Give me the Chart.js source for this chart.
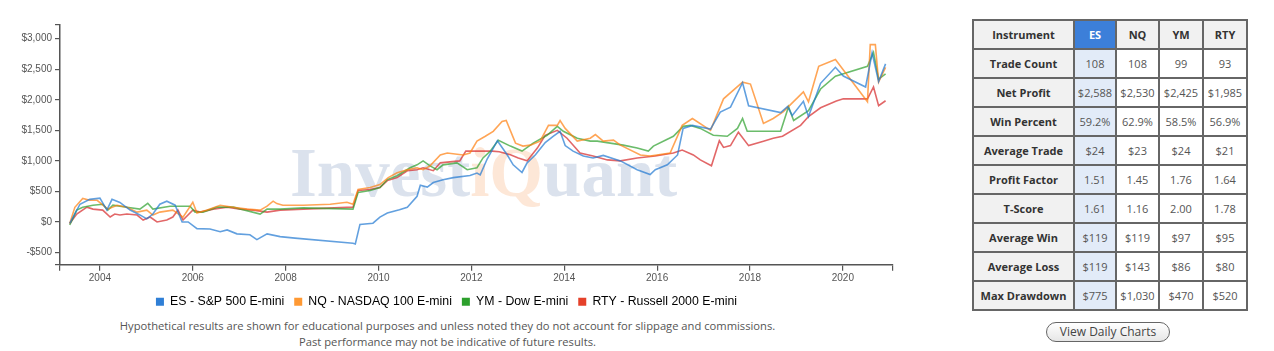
<!DOCTYPE html>
<html>
<head>
<meta charset="utf-8">
<script src="https://cdn.jsdelivr.net/npm/chart.js@4/dist/chart.umd.min.js"></script>
<style>
body { margin: 0; background: #fff; width: 1274px; height: 351px; overflow: hidden; font-family: "Open Sans", sans-serif; }
#equityChart { position: absolute; left: 0; top: 0; }
#disclaimer { position: absolute; left: 0; top: 318px; width: 895px; text-align: center; font-size: 11.2px; color: #555; line-height: 16px; }
#stats { position: absolute; left: 972px; top: 19px; border-collapse: collapse; table-layout: fixed; width: 274px; border: 2px solid #666; }
#stats td { border: 2px solid #666; padding: 0; text-align: center; font-size: 11px; color: #555; background: #fff; white-space: nowrap; overflow: hidden; }
#stats tr { height: 29px; }
#stats td.label { background: #f1f1f1; color: #333; font-weight: bold; }
#stats td.es { background: #e2ebf8; }
#stats td.esHead { background: #3c7fd9; color: #fff; font-weight: bold; }
#stats td.head { background: #f1f1f1; color: #333; font-weight: bold; }
#dailyBtn { position: absolute; left: 1046px; top: 322px; width: 122px; height: 18px; border: 1.5px solid #666; border-radius: 11px; background: linear-gradient(#fff, #e6e6e6); font-size: 12px; color: #444; text-align: center; line-height: 18px; }
</style>
</head>
<body>
<canvas id="equityChart" width="905" height="318"></canvas>
<div id="disclaimer">Hypothetical results are shown for educational purposes and unless noted they do not account for slippage and commissions.<br>Past performance may not be indicative of future results.</div>
<table id="stats"></table>
<div id="dailyBtn">View Daily Charts</div>
<script>
// series: cumulative profit, x = decimal year
const esYears = [2003.35, 2003.57, 2003.78, 2004.00, 2004.15, 2004.26, 2004.43, 2004.65, 2004.86, 2005.01, 2005.14, 2005.29, 2005.44, 2005.62, 2005.77, 2005.90, 2006.09, 2006.37, 2006.59, 2006.74, 2006.95, 2007.23, 2007.38, 2007.60, 2007.88, 2008.20, 2009.45, 2009.50, 2009.60, 2009.88, 2010.03, 2010.19, 2010.45, 2010.62, 2010.83, 2010.90, 2011.05, 2011.18, 2011.39, 2011.61, 2011.97, 2012.12, 2012.19, 2012.34, 2012.56, 2012.77, 2012.90, 2013.09, 2013.20, 2013.38, 2013.59, 2013.76, 2013.91, 2014.02, 2014.19, 2014.41, 2014.62, 2014.84, 2015.21, 2015.57, 2015.85, 2015.96, 2016.22, 2016.44, 2016.56, 2016.76, 2017.15, 2017.36, 2017.58, 2017.84, 2017.97, 2018.66, 2018.81, 2018.91, 2019.15, 2019.26, 2019.52, 2019.84, 2020.01, 2020.49, 2020.63, 2020.77, 2020.92];
const esValues = [-25, 290, 370, 390, 195, 370, 320, 195, 115, 50, 130, 290, 340, 275, 0, 0, -110, -115, -160, -130, -195, -210, -290, -195, -240, -265, -350, -360, -40, -20, 80, 145, 200, 240, 420, 600, 570, 645, 690, 726, 760, 800, 770, 1030, 1330, 1100, 935, 810, 968, 1100, 1300, 1400, 1484, 1250, 1160, 1080, 1048, 1090, 1000, 855, 775, 855, 935, 1097, 1532, 1581, 1520, 1800, 1880, 2280, 1903, 1790, 1890, 1742, 1975, 1726, 2270, 2532, 2390, 2210, 2770, 2300, 2588];

const nqYears = [2003.35, 2003.46, 2003.63, 2003.78, 2003.94, 2004.17, 2004.37, 2004.58, 2004.80, 2005.01, 2005.14, 2005.29, 2005.57, 2005.79, 2006.00, 2006.09, 2006.31, 2006.59, 2006.87, 2007.17, 2007.45, 2007.60, 2007.73, 2007.81, 2007.94, 2008.38, 2008.96, 2009.32, 2009.45, 2009.56, 2009.82, 2010.03, 2010.21, 2010.40, 2010.62, 2010.83, 2010.96, 2011.11, 2011.33, 2011.48, 2011.82, 2011.97, 2012.12, 2012.30, 2012.47, 2012.66, 2012.75, 2012.95, 2013.11, 2013.27, 2013.48, 2013.66, 2013.85, 2013.91, 2014.02, 2014.28, 2014.56, 2014.67, 2014.84, 2015.06, 2015.21, 2015.64, 2015.85, 2016.28, 2016.54, 2016.76, 2017.15, 2017.43, 2017.84, 2018.01, 2018.29, 2018.50, 2018.72, 2019.15, 2019.26, 2019.48, 2019.84, 2020.53, 2020.59, 2020.70, 2020.77, 2020.92];
const nqValues = [-25, 240, 385, 355, 355, 210, 274, 242, 161, 194, 113, 161, 194, 80, 323, 145, 194, 274, 242, 210, 194, 258, 340, 300, 274, 274, 290, 323, 290, 532, 565, 613, 726, 806, 855, 887, 855, 919, 1097, 1129, 1097, 1129, 1323, 1403, 1484, 1645, 1661, 1290, 1242, 1258, 1323, 1581, 1581, 1661, 1532, 1323, 1371, 1430, 1323, 1339, 1258, 1097, 1081, 1129, 1581, 1694, 1500, 2016, 2290, 2258, 1613, 1694, 1806, 2129, 1968, 2548, 2661, 1968, 2903, 2903, 2290, 2530];

const ymYears = [2003.35, 2003.50, 2003.63, 2003.85, 2004.06, 2004.17, 2004.28, 2004.58, 2004.86, 2005.03, 2005.14, 2005.51, 2005.94, 2006.05, 2006.22, 2006.52, 2006.87, 2007.45, 2007.60, 2007.88, 2008.38, 2009.45, 2009.56, 2009.82, 2010.03, 2010.19, 2010.40, 2010.68, 2010.83, 2010.96, 2011.11, 2011.26, 2011.39, 2011.69, 2011.91, 2012.12, 2012.25, 2012.41, 2012.58, 2012.84, 2013.09, 2013.33, 2013.63, 2013.85, 2013.98, 2014.28, 2014.56, 2014.71, 2015.27, 2015.57, 2015.81, 2015.92, 2016.35, 2016.56, 2016.72, 2016.93, 2017.21, 2017.51, 2017.73, 2017.84, 2017.94, 2018.66, 2018.83, 2018.94, 2019.26, 2019.52, 2019.84, 2020.53, 2020.66, 2020.77, 2020.92];
const ymValues = [-50, 194, 242, 274, 290, 194, 274, 242, 210, 306, 210, 258, 258, 161, 161, 242, 242, 129, 210, 210, 230, 210, 484, 516, 565, 694, 758, 887, 935, 1000, 919, 855, 935, 968, 855, 887, 1048, 1161, 1339, 1242, 1161, 1290, 1419, 1565, 1484, 1371, 1323, 1323, 1258, 1210, 1161, 1242, 1403, 1565, 1581, 1532, 1419, 1403, 1532, 1694, 1484, 1484, 1887, 1661, 1823, 2177, 2387, 2548, 2774, 2339, 2425];

const rtyYears = [2003.35, 2003.50, 2003.72, 2003.85, 2004.06, 2004.22, 2004.32, 2004.43, 2004.58, 2004.80, 2004.93, 2005.08, 2005.23, 2005.44, 2005.57, 2005.68, 2005.79, 2006.00, 2006.16, 2006.44, 2006.74, 2007.02, 2007.30, 2007.60, 2007.88, 2008.38, 2009.45, 2009.56, 2009.82, 2010.03, 2010.19, 2010.40, 2010.62, 2010.83, 2010.96, 2011.18, 2011.33, 2011.75, 2011.88, 2012.45, 2012.60, 2012.84, 2013.01, 2013.20, 2013.42, 2013.59, 2013.85, 2014.06, 2014.34, 2014.62, 2014.93, 2015.21, 2015.57, 2015.96, 2016.35, 2016.54, 2016.78, 2016.93, 2017.17, 2017.34, 2017.43, 2017.58, 2017.75, 2017.97, 2018.29, 2018.50, 2018.70, 2019.09, 2019.26, 2019.52, 2019.86, 2020.01, 2020.53, 2020.66, 2020.77, 2020.92];
const rtyValues = [-25, 129, 242, 210, 194, 81, 129, 113, 129, 113, 32, 81, 0, 32, 81, 194, 32, 194, 161, 210, 242, 210, 194, 161, 194, 210, 242, 516, 532, 565, 677, 726, 839, 855, 887, 839, 968, 1000, 1160, 1160, 1150, 1100, 1048, 1000, 1210, 1419, 1500, 1371, 1129, 1081, 1016, 1000, 1048, 1081, 1129, 1177, 1097, 1016, 920, 1330, 1220, 1250, 1470, 1250, 1323, 1371, 1403, 1581, 1726, 1870, 1980, 2016, 2016, 2210, 1903, 1985];

const seriesNames = ['ES - S&P 500 E-mini', 'NQ - NASDAQ 100 E-mini', 'YM - Dow E-mini', 'RTY - Russell 2000 E-mini'];
const lineColors = ['rgba(31,119,210,0.7)', 'rgba(255,127,14,0.7)', 'rgba(44,160,44,0.7)', 'rgba(214,39,40,0.7)'];
const legendColors = ['#2f7fd6', '#ff9933', '#2ca02c', '#e5412a'];

const xTickYears = [2004, 2006, 2008, 2010, 2012, 2014, 2016, 2018, 2020];
const yTickValues = [-500, 0, 500, 1000, 1500, 2000, 2500, 3000];
const xMin = 2003.14, xMax = 2021.08;
const yMin = -700, yMax = 3225;

// stats table
const tableHead = ['Instrument', 'ES', 'NQ', 'YM', 'RTY'];
const tableLabels = ['Trade Count', 'Net Profit', 'Win Percent', 'Average Trade', 'Profit Factor', 'T-Score', 'Average Win', 'Average Loss', 'Max Drawdown'];
const esStats = ['108', '$2,588', '59.2%', '$24', '1.51', '1.61', '$119', '$119', '$775'];
const nqStats = ['108', '$2,530', '62.9%', '$23', '1.45', '1.16', '$119', '$143', '$1,030'];
const ymStats = ['99', '$2,425', '58.5%', '$24', '1.76', '2.00', '$97', '$86', '$470'];
const rtyStats = ['93', '$1,985', '56.9%', '$21', '1.64', '1.78', '$95', '$80', '$520'];

function money(v) {
    const s = '$' + Math.abs(v).toLocaleString('en-US');
    return v < 0 ? '-' + s : s;
}

function points(xs, ys) {
    return xs.map((x, i) => ({ x: x, y: ys[i] }));
}

// build table
const table = document.getElementById('stats');
const widths = [101, 42, 43, 44, 44];
let html = '<colgroup>' + widths.map(w => `<col style="width:${w}px">`).join('') + '</colgroup>';
html += '<tr>' + tableHead.map((h, i) => `<td class="${i === 1 ? 'esHead' : 'head'}">${h}</td>`).join('') + '</tr>';
tableLabels.forEach((label, r) => {
    html += `<tr><td class="label">${label}</td><td class="es">${esStats[r]}</td><td>${nqStats[r]}</td><td>${ymStats[r]}</td><td>${rtyStats[r]}</td></tr>`;
});
table.innerHTML = html;

const watermark = {
    id: 'watermark',
    beforeDatasetsDraw(chart) {
        const ctx = chart.ctx;
        ctx.save();
        ctx.font = 'bold 69px "Liberation Serif"';
        let x = 290;
        const y = 178;
        ctx.fillStyle = 'rgba(190,203,222,0.55)';
        ctx.fillText('Invest', x, y);
        x += ctx.measureText('Invest').width;
        ctx.fillStyle = 'rgba(248,185,140,0.35)';
        ctx.fillText('iQ', x, y);
        x += ctx.measureText('iQ').width;
        ctx.fillStyle = 'rgba(190,203,222,0.55)';
        ctx.fillText('uant', x, y);
        ctx.restore();
    }
};

const axisFont = { family: 'Liberation Sans', size: 10 };

new Chart(document.getElementById('equityChart').getContext('2d'), {
    type: 'line',
    data: {
        datasets: [
            { label: seriesNames[0], data: points(esYears, esValues), borderColor: lineColors[0], backgroundColor: legendColors[0] },
            { label: seriesNames[1], data: points(nqYears, nqValues), borderColor: lineColors[1], backgroundColor: legendColors[1] },
            { label: seriesNames[2], data: points(ymYears, ymValues), borderColor: lineColors[2], backgroundColor: legendColors[2] },
            { label: seriesNames[3], data: points(rtyYears, rtyValues), borderColor: lineColors[3], backgroundColor: legendColors[3] }
        ]
    },
    options: {
        responsive: false,
        animation: false,
        layout: { padding: { top: 25, right: 12, left: 0, bottom: 0 } },
        elements: {
            line: { borderWidth: 1.6, tension: 0 },
            point: { radius: 0 }
        },
        scales: {
            x: {
                type: 'linear',
                min: xMin,
                max: xMax,
                afterBuildTicks: s => { s.ticks = [xMin, ...xTickYears, xMax].map(v => ({ value: v })); },
                afterFit: s => { s.height = 21; },
                grid: { drawOnChartArea: false, tickLength: 6, color: '#555', lineWidth: 1.2 },
                border: { color: '#555', width: 1.5 },
                ticks: {
                    color: '#555', font: axisFont, padding: 2, maxRotation: 0, autoSkip: false,
                    callback: v => xTickYears.includes(v) ? String(v) : ''
                }
            },
            y: {
                min: yMin,
                max: yMax,
                afterBuildTicks: s => { s.ticks = [yMin, ...yTickValues, yMax].map(v => ({ value: v })); },
                afterFit: s => { s.width = 60; },
                grid: { drawOnChartArea: false, tickLength: 5, color: '#555', lineWidth: 1.2 },
                border: { color: '#555', width: 1.5 },
                ticks: {
                    color: '#555', font: axisFont, padding: 3, autoSkip: false,
                    callback: v => yTickValues.includes(v) ? money(v) : ''
                }
            }
        },
        plugins: {
            legend: {
                position: 'bottom',
                labels: {
                    boxWidth: 8,
                    boxHeight: 8,
                    padding: 10,
                    color: '#333',
                    font: { family: 'Liberation Sans', size: 12.3 },
                    generateLabels: chart => chart.data.datasets.map((d, i) => ({
                        text: d.label, fillStyle: legendColors[i], strokeStyle: legendColors[i],
                        lineWidth: 0, datasetIndex: i, hidden: false
                    }))
                }
            },
            tooltip: { enabled: false }
        }
    },
    plugins: [watermark]
});
</script>
</body>
</html>
